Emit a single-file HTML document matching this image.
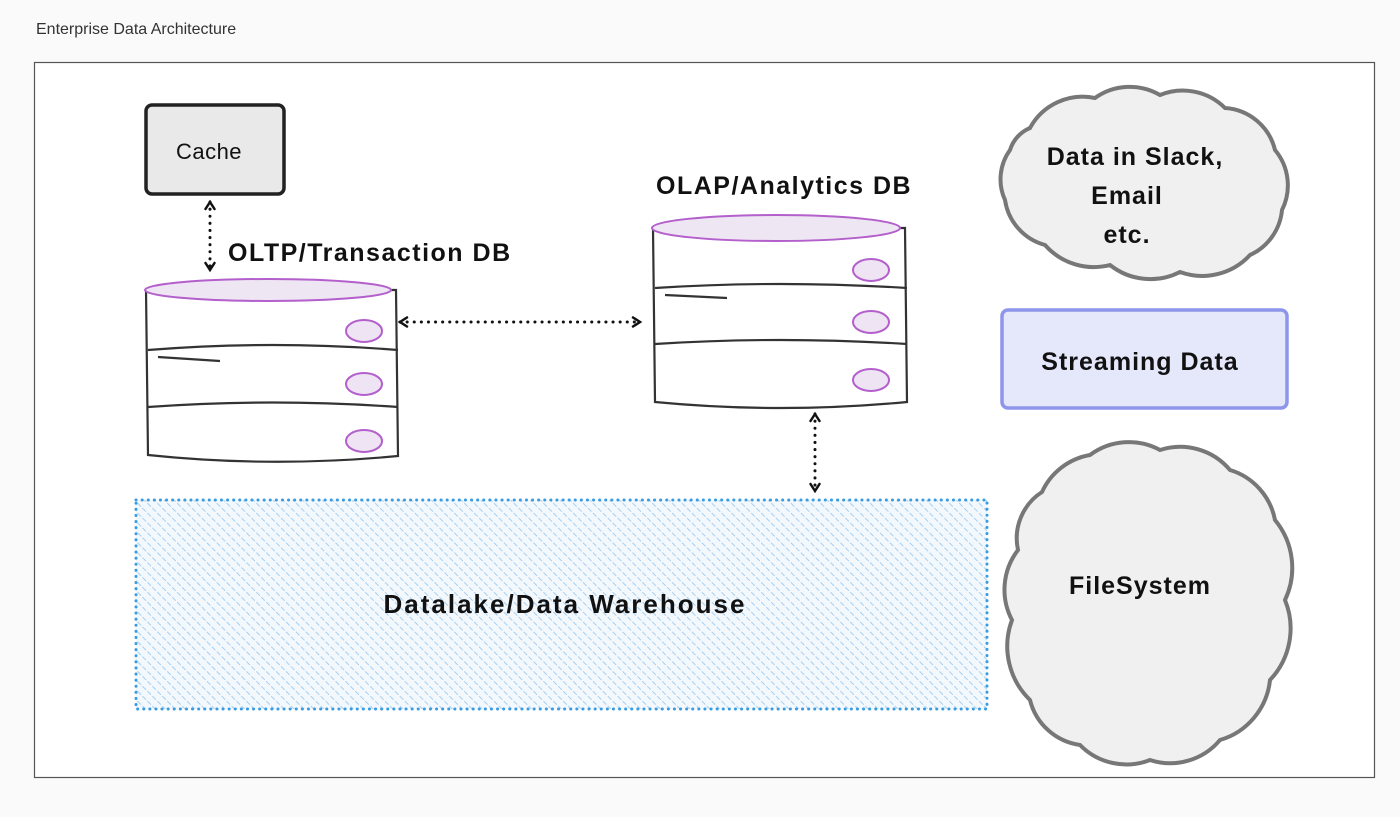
<!DOCTYPE html>
<html><head><meta charset="utf-8"><style>
html,body{margin:0;padding:0;background:#fafafa;}
svg{display:block}
text{font-family:"Liberation Sans",sans-serif;fill:#111;}
</style></head><body>
<svg width="1400" height="817" viewBox="0 0 1400 817" xmlns="http://www.w3.org/2000/svg">
<defs>
<pattern id="hatch" width="7" height="7" patternUnits="userSpaceOnUse" patternTransform="rotate(-45)">
<rect width="7" height="7" fill="#f3f8fd"/>
<line x1="0" y1="0" x2="0" y2="7" stroke="#a6cff0" stroke-width="2" stroke-dasharray="3,2"/>
</pattern>
<marker id="ah" viewBox="0 0 12 12" refX="9" refY="6" markerWidth="12" markerHeight="12" orient="auto-start-reverse" markerUnits="userSpaceOnUse">
<path d="M2,1.5 L9,6 L2,10.5" fill="none" stroke="#111" stroke-width="2.5" stroke-linecap="round"/>
</marker>
</defs>
<rect width="1400" height="817" fill="#fafafa"/>
<text x="36" y="34" font-size="16" style="fill:#333">Enterprise Data Architecture</text>
<rect x="34.5" y="62.5" width="1340" height="715" fill="#fff" stroke="#555" stroke-width="1.2"/>

<!-- Cache -->
<rect x="146" y="105" width="138" height="89" rx="6" fill="#e9e9e9" stroke="#222" stroke-width="3.5"/>
<text x="209" y="159" font-size="22" text-anchor="middle" letter-spacing="0.5">Cache</text>
<line x1="210" y1="202" x2="210" y2="270" stroke="#111" stroke-width="3" stroke-dasharray="0.1,7" stroke-linecap="round" marker-start="url(#ah)" marker-end="url(#ah)"/>
<text x="228" y="261" font-size="25" font-weight="bold" letter-spacing="1.5">OLTP/Transaction DB</text>

<!-- DB1 -->
<g stroke="#333" stroke-width="2.2" fill="#fff">
<path d="M146,290 L148,455 Q272,468 398,456 L396,290 Z"/>
<path d="M148,350 Q272,340 398,350" fill="none"/>
<path d="M148,407 Q272,398 398,407" fill="none"/>
<path d="M158,357 L220,361" fill="none"/>
</g>
<ellipse cx="268" cy="290" rx="123" ry="11" fill="#efe6f3" stroke="#b35fcc" stroke-width="2"/>
<g fill="#eee4f3" stroke="#b35fcc" stroke-width="2">
<ellipse cx="364" cy="331" rx="18" ry="11"/><ellipse cx="364" cy="384" rx="18" ry="11"/><ellipse cx="364" cy="441" rx="18" ry="11"/>
</g>

<!-- DB2 -->
<text x="656" y="194" font-size="25" font-weight="bold" letter-spacing="1.5">OLAP/Analytics DB</text>
<g stroke="#333" stroke-width="2.2" fill="#fff">
<path d="M653,228 L655,402 Q780,414 907,402 L905,228 Z"/>
<path d="M655,288 Q780,280 907,288" fill="none"/>
<path d="M655,344 Q780,336 907,344" fill="none"/>
<path d="M665,295 L727,298" fill="none"/>
</g>
<ellipse cx="776" cy="228" rx="124" ry="13" fill="#efe6f3" stroke="#b35fcc" stroke-width="2"/>
<g fill="#eee4f3" stroke="#b35fcc" stroke-width="2">
<ellipse cx="871" cy="270" rx="18" ry="11"/><ellipse cx="871" cy="322" rx="18" ry="11"/><ellipse cx="871" cy="380" rx="18" ry="11"/>
</g>

<line x1="400" y1="322" x2="640" y2="322" stroke="#111" stroke-width="3" stroke-dasharray="0.1,7" stroke-linecap="round" marker-start="url(#ah)" marker-end="url(#ah)"/>
<line x1="815" y1="414" x2="815" y2="491" stroke="#111" stroke-width="3" stroke-dasharray="0.1,7" stroke-linecap="round" marker-start="url(#ah)" marker-end="url(#ah)"/>

<!-- Datalake -->
<rect x="136" y="500" width="851" height="209" fill="url(#hatch)" stroke="#3a9ce0" stroke-width="3" stroke-dasharray="0.1,6" stroke-linecap="round"/>
<text x="565" y="613" font-size="26" font-weight="bold" text-anchor="middle" letter-spacing="2">Datalake/Data Warehouse</text>

<!-- Cloud 1 -->
<path d="M1030,128 A60,60 0 0 1 1095,98 A60,60 0 0 1 1160,95 A60,60 0 0 1 1225,108 A55,55 0 0 1 1275,150 A55,55 0 0 1 1282,210 A55,55 0 0 1 1250,255 A65,65 0 0 1 1180,272 A65,65 0 0 1 1110,265 A65,65 0 0 1 1045,245 A55,55 0 0 1 1005,200 A50,50 0 0 1 1010,150 A35,35 0 0 1 1030,128 Z" fill="#f0f0f0" stroke="#777" stroke-width="4"/>
<text x="1135" y="165" font-size="25" font-weight="bold" text-anchor="middle" letter-spacing="1">Data in Slack,</text>
<text x="1127" y="204" font-size="25" font-weight="bold" text-anchor="middle" letter-spacing="1">Email</text>
<text x="1127" y="243" font-size="25" font-weight="bold" text-anchor="middle" letter-spacing="1">etc.</text>

<!-- Streaming -->
<rect x="1002" y="310" width="285" height="98" rx="6" fill="#e5e8fb" stroke="#8d96ea" stroke-width="3.5"/>
<text x="1140" y="370" font-size="25" font-weight="bold" text-anchor="middle" letter-spacing="1">Streaming Data</text>

<!-- Cloud 2 -->
<path d="M1042,492 A65,65 0 0 1 1090,455 A65,65 0 0 1 1160,450 A65,65 0 0 1 1230,470 A65,65 0 0 1 1275,520 A75,75 0 0 1 1285,600 A75,75 0 0 1 1270,680 A70,70 0 0 1 1220,740 A65,65 0 0 1 1150,760 A65,65 0 0 1 1080,745 A60,60 0 0 1 1030,700 A75,75 0 0 1 1012,620 A65,65 0 0 1 1018,550 A55,55 0 0 1 1042,492 Z" fill="#f0f0f0" stroke="#777" stroke-width="4"/>
<text x="1140" y="594" font-size="25" font-weight="bold" text-anchor="middle" letter-spacing="1">FileSystem</text>
</svg>
</body></html>
